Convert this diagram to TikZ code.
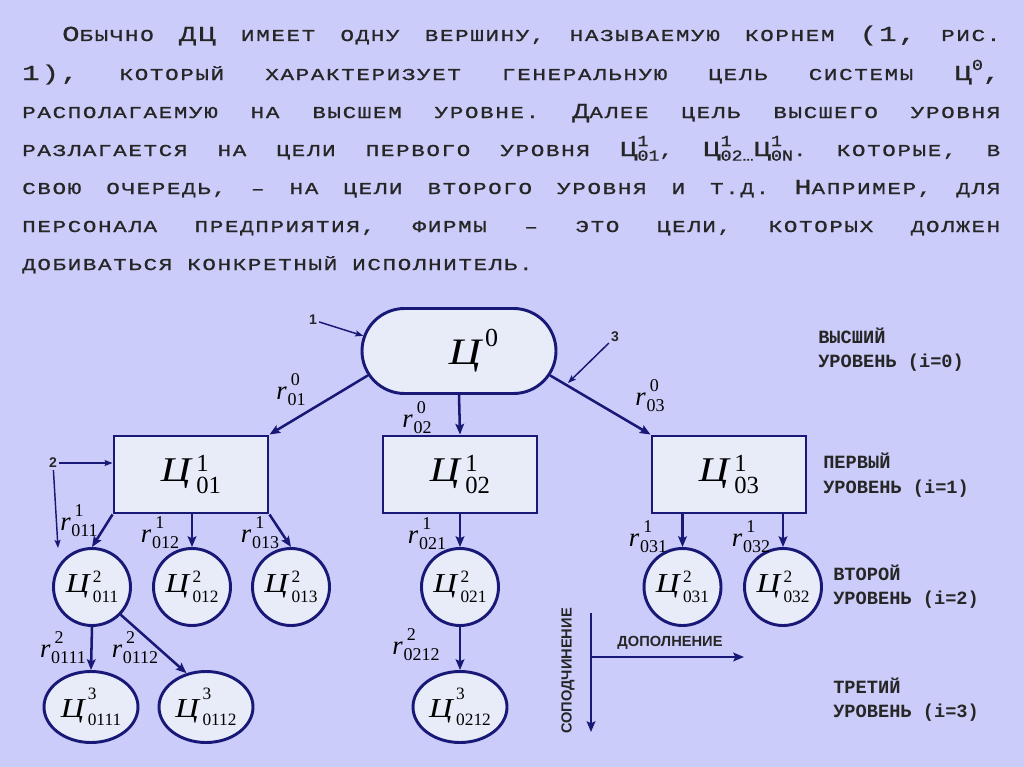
\documentclass[tikz,border=0pt]{standalone}
\usepackage{fontspec}
\setmainfont{Liberation Serif}
\newfontfamily\txt{Liberation Mono}[FakeStretch=1.35,LetterSpace=10,FakeBold=1]
\newfontfamily\subf{Liberation Mono}[FakeStretch=1.2,FakeBold=1]
\newfontfamily\lvlf{Liberation Mono}
\newfontfamily\axf{Liberation Sans}
\newfontfamily\Cf{Liberation Serif}[FakeStretch=1.2]
\usetikzlibrary{shapes.geometric,shapes.misc,arrows.meta}
\definecolor{bg}{RGB}{204,204,250}
\definecolor{nfill}{RGB}{232,236,248}
\definecolor{navy}{RGB}{24,24,118}
% text helpers
\newcommand\Bg[1]{{\fontsize{16}{17}\selectfont #1}}
\newcommand\Sup[1]{\raisebox{7.5pt}{\subf\fontsize{11.5}{11.5}\selectfont #1}}
\newcommand\TC[2]{\Bg{Ц}\rlap{\Sup{#1}}\raisebox{-3.5pt}{\subf\fontsize{11.5}{11.5}\selectfont #2}}
\newcommand\jl[2]{\hbox to #1{\frenchspacing\spaceskip=11.25pt plus 1fil\relax#2}}
% goal symbol: #1 size, #2 digit size, #3 sup, #4 sub, #5 raise, #6 lower, #7 kern
\newcommand\goal[7]{{\Cf\itshape\fontsize{#1}{#1}\selectfont Ц}\kern#7\rlap{\raisebox{#5}{\fontsize{#2}{#2}\selectfont #3}}\raisebox{-#6}{\fontsize{#2}{#2}\selectfont #4}}
\newcommand\gB[2]{\goal{26}{18.5}{#1}{#2}{7.5pt}{9pt}{4pt}}
\newcommand\gC[2]{\goal{20.5}{13}{#1}{#2}{7.5pt}{7.5pt}{2.5pt}}
\newcommand\gE[2]{\goal{20.5}{13}{#1}{#2}{13pt}{6pt}{2.5pt}}
\newcommand\rl[2]{{\itshape\fontsize{20}{20}\selectfont r}\kern0.5pt\rlap{\kern2.5pt\raisebox{10.5pt}{\fontsize{13.5}{13.5}\selectfont #1}}\raisebox{-4.5pt}{\fontsize{13.5}{13.5}\selectfont #2}}
\begin{document}
\begin{tikzpicture}[x=0.75pt,y=-0.75pt,
  goalbox/.style={draw=navy,line width=2.2pt,fill=nfill,inner sep=0pt},
  rootn/.style={goalbox,rounded rectangle,minimum width=145.5pt,minimum height=63.75pt},
  lvla/.style={goalbox,rectangle,minimum width=115.5pt,minimum height=57.75pt},
  lvlb/.style={goalbox,circle,minimum size=57.75pt},
  lvlc/.style={goalbox,ellipse,minimum width=70.5pt,minimum height=53.25pt},
  conn/.style={draw=navy,line width=1.9pt,-{Stealth[length=8pt,width=6.5pt,inset=1.5pt]}},
  ptr/.style={draw=navy,line width=1.1pt,-{Stealth[length=6pt,width=4.5pt,inset=1pt]}},
  rlab/.style={inner sep=0pt,text=black},
  ptext/.style={anchor=base west,inner sep=0pt,text=black!85,font=\txt\fontsize{12.5}{14}\selectfont},
  lvltxt/.style={anchor=base west,inner sep=0pt,text=black!85,font=\lvlf\bfseries\fontsize{14}{16}\selectfont},
  axlbl/.style={inner sep=0pt,text=black!85,font=\axf\bfseries\fontsize{11}{13}\selectfont},
  ptlbl/.style={inner sep=1.5pt,text=black!85,font=\axf\bfseries\fontsize{10.5}{12}\selectfont}]
\fill[bg] (0,0) rectangle (1024,767);
\useasboundingbox (0,0) rectangle (1024,767);
% paragraph
\node[ptext] (t1) at (62,41) {\jl{703.5pt}{\Bg{О}БЫЧНО \Bg{ДЦ} ИМЕЕТ ОДНУ ВЕРШИНУ, НАЗЫВАЕМУЮ КОРНЕМ \Bg{(1,} РИС.}};
\node[ptext] (t2) at (22,80) {\jl{733.5pt}{\Bg{1),} КОТОРЫЙ ХАРАКТЕРИЗУЕТ ГЕНЕРАЛЬНУЮ ЦЕЛЬ СИСТЕМЫ \Bg{Ц}\Sup{0}\Bg{,}}};
\node[ptext] (t3) at (22,118) {\jl{733.5pt}{РАСПОЛАГАЕМУЮ НА ВЫСШЕМ УРОВНЕ. \Bg{Д}АЛЕЕ ЦЕЛЬ ВЫСШЕГО УРОВНЯ}};
\node[ptext] (t4) at (22,156) {\jl{733.5pt}{РАЗЛАГАЕТСЯ НА ЦЕЛИ ПЕРВОГО УРОВНЯ \TC{1}{01}, \TC{1}{02…}\TC{1}{0N}. КОТОРЫЕ, В}};
\node[ptext] (t5) at (22,194) {\jl{733.5pt}{СВОЮ ОЧЕРЕДЬ, – НА ЦЕЛИ ВТОРОГО УРОВНЯ И Т.Д. \Bg{Н}АПРИМЕР, ДЛЯ}};
\node[ptext] (t6) at (22,232) {\jl{733.5pt}{ПЕРСОНАЛА ПРЕДПРИЯТИЯ, ФИРМЫ – ЭТО ЦЕЛИ, КОТОРЫХ ДОЛЖЕН}};
\node[ptext] (t7) at (22,270) {\frenchspacing\spaceskip=11.25pt\relax ДОБИВАТЬСЯ КОНКРЕТНЫЙ ИСПОЛНИТЕЛЬ.};
% goal nodes
\node[rootn] (root) at (459,351) {\hspace*{12pt}\goal{28}{19.5}{0}{}{13.5pt}{0pt}{3pt}};
\node[lvla] (b01) at (191,474.5) {\gB{1}{01}};
\node[lvla] (b02) at (460,474.5) {\gB{1}{02}};
\node[lvla] (b03) at (729,474.5) {\gB{1}{03}};
\node[lvlb] (c011) at (92,587) {\gC{2}{011}};
\node[lvlb] (c012) at (192,587) {\gC{2}{012}};
\node[lvlb] (c013) at (291,587) {\gC{2}{013}};
\node[lvlb] (c021) at (460,587) {\gC{2}{021}};
\node[lvlb] (c031) at (682.5,587) {\gC{2}{031}};
\node[lvlb] (c032) at (783,587) {\gC{2}{032}};
\node[lvlc] (e0111) at (91,707) {\gE{3}{0111}};
\node[lvlc] (e0112) at (206,707) {\gE{3}{0112}};
\node[lvlc] (e0212) at (460,707) {\gE{3}{0212}};
% connectors
\draw[conn] (root.195) -- (b01.north east);
\draw[conn] (root.south) -- (b02.north);
\draw[conn] (root.-15) -- (b03.north west);
\draw[conn] (b01.south west) -- (c011.north);
\draw[conn] (b01.south -| c012.north) -- (c012.north);
\draw[conn] (b01.south east) -- (c013.north);
\draw[conn] (b02.south) -- (c021.north);
\draw[conn] (b03.south -| c031.north) -- (c031.north);
\draw[conn] (b03.south -| c032.north) -- (c032.north);
\draw[conn] (c011.south) -- (e0111.north);
\draw[conn] (c011.-44) -- (e0112.120);
\draw[conn] (c021.south) -- (e0212.north);
% connector labels
\node[rlab] (r001) at (291,390) {\rl{0}{01}};
\node[rlab] (r002) at (417,418) {\rl{0}{02}};
\node[rlab] (r003) at (650,396) {\rl{0}{03}};
\node[rlab] (r1011) at (79,521) {\rl{1}{011}};
\node[rlab] (r1012) at (160,533) {\rl{1}{012}};
\node[rlab] (r1013) at (260,533) {\rl{1}{013}};
\node[rlab] (r1021) at (427,534) {\rl{1}{021}};
\node[rlab] (r1031) at (648,537) {\rl{1}{031}};
\node[rlab] (r1032) at (751,537) {\rl{1}{032}};
\node[rlab] (r20111) at (63,648) {\rl{2}{0111}};
\node[rlab] (r20112) at (135,648) {\rl{2}{0112}};
\node[rlab] (r20212) at (416,645) {\rl{2}{0212}};
% pointers
\node[ptlbl] (l1) at (313,320) {1};
\node[ptlbl] (l2) at (53,463) {2};
\node[ptlbl] (l3) at (615,337) {3};
\coordinate (c3) at (568,383);
\coordinate (c2) at (58,548);
\draw[ptr] (l1) -- (root.171);
\draw[ptr] (l2) -- (l2 -| b01.west);
\draw[ptr] (l2) -- (c2);
\draw[ptr] (l3) -- (c3);
% axes
\coordinate (axO) at (591,613);
\coordinate (axV) at (591,732);
\coordinate (axH0) at (591,657);
\coordinate (axH) at (744,657);
\draw[conn] (axO) -- (axV);
\draw[conn] (axH0) -- (axH);
\node[axlbl] (dop) at (670,643) {ДОПОЛНЕНИЕ};
\node[axlbl,rotate=90] (sopod) at (568,671) {СОПОДЧИНЕНИЕ};
% level labels
\node[lvltxt] (v0a) at (818,343) {ВЫСШИЙ};
\node[lvltxt] (v0b) at (818,367) {УРОВЕНЬ (i=0)};
\node[lvltxt] (v1a) at (823,468) {ПЕРВЫЙ};
\node[lvltxt] (v1b) at (823,493) {УРОВЕНЬ (i=1)};
\node[lvltxt] (v2a) at (833,580) {ВТОРОЙ};
\node[lvltxt] (v2b) at (833,604) {УРОВЕНЬ (i=2)};
\node[lvltxt] (v3a) at (833,693) {ТРЕТИЙ};
\node[lvltxt] (v3b) at (833,717) {УРОВЕНЬ (i=3)};
\end{tikzpicture}
\end{document}
